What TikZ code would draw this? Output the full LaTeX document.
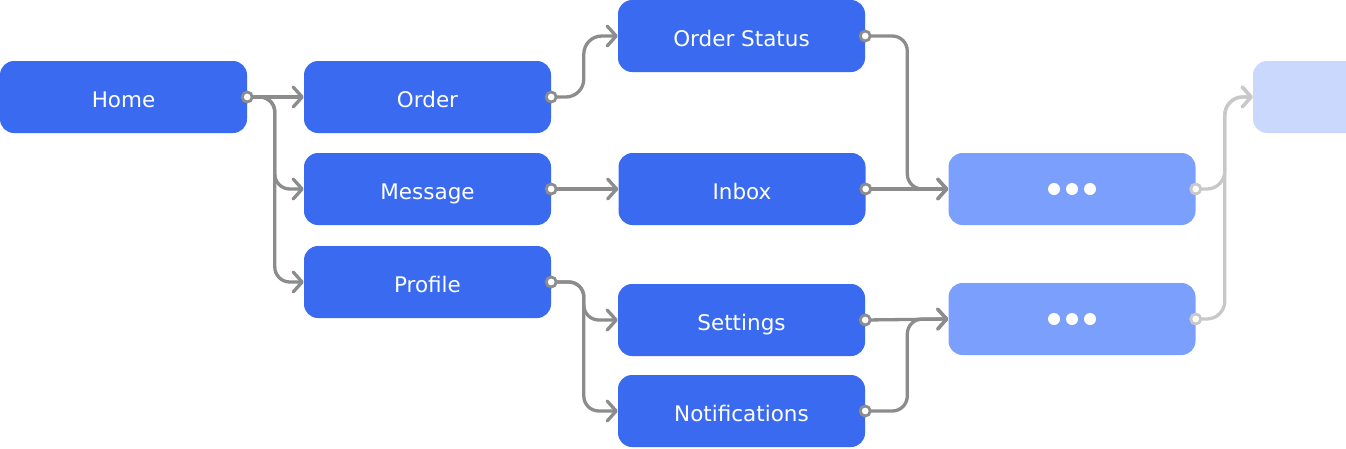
\documentclass[tikz,border=0pt]{standalone}
\usepackage{fontspec}
\setmainfont{DejaVu Sans}
\usetikzlibrary{arrows.meta}
\definecolor{nodeblue}{HTML}{396AF0}
\definecolor{softblue}{HTML}{7B9FFC}
\definecolor{paleblue}{HTML}{CAD8FD}
\definecolor{linegray}{HTML}{8C8C8C}
\definecolor{lightgray}{HTML}{C8C8C8}
\begin{document}
\begin{tikzpicture}[x=1pt,y=-1pt,
  box/.style={fill=nodeblue, rounded corners=14pt, minimum width=247pt, minimum height=72pt,
    inner sep=0pt, text height=20pt, text depth=0pt, text=white,
    font=\fontsize{21.5}{25}\selectfont},
  softbox/.style={box, fill=softblue},
  palebox/.style={box, fill=paleblue},
  conn/.style={draw=linegray, line width=3.3pt, rounded corners=15pt,
    -{Straight Barb[length=9pt,width=20pt,round]}},
  connlight/.style={conn, draw=lightgray},
  startdot/.style={draw=linegray, fill=white, line width=2.8pt},
  startdotlight/.style={startdot, draw=lightgray}]
\clip (0,0) rectangle (1346,448);
\node[box] (home) at (123.5,97) {Home};
\node[box] (order) at (427.5,97) {Order};
\node[box] (message) at (427.5,189) {Message};
\node[box] (profile) at (427.5,282) {Profile};
\node[box] (ostatus) at (741.5,36) {Order Status};
\node[box] (inbox) at (742,189) {Inbox};
\node[box] (settings) at (741.5,320) {Settings};
\node[box] (notif) at (741.5,411) {Notifications};
\node[softbox] (dots1) at (1072,189) {};
\node[softbox] (dots2) at (1072,319) {};
\node[palebox] (faint) at (1376.5,97) {};
\foreach \dx in {-18,0,18} {
  \fill[white] ([xshift=\dx pt]dots1.center) circle (6pt);
  \fill[white] ([xshift=\dx pt]dots2.center) circle (6pt);
}
\draw[conn] (home.east) -- (order.west);
\draw[conn] (home.east) -| ([xshift=-29pt]message.west) -- (message.west);
\draw[conn] (home.east) -| ([xshift=-29pt]profile.west) -- (profile.west);
\draw[conn, rounded corners=18pt] (order.east) -| ([xshift=-34pt]ostatus.west) -- (ostatus.west);
\draw[conn] (message.east) -- (inbox.west);
\draw[conn] (profile.east) -| ([xshift=-34pt]settings.west) -- (settings.west);
\draw[conn] (profile.east) -| ([xshift=-34pt]notif.west) -- (notif.west);
\draw[conn] (ostatus.east) -| ([xshift=-41pt]dots1.west) -- (dots1.west);
\draw[conn] (inbox.east) -- (dots1.west);
\draw[conn] (settings.east) -- (dots2.west);
\draw[conn] (notif.east) -| ([xshift=-41pt]dots2.west) -- (dots2.west);
\draw[connlight, rounded corners=18pt] (dots1.east) -| ([xshift=-28pt]faint.west) -- (faint.west);
\draw[connlight, rounded corners=18pt] (dots2.east) -| ([xshift=-28pt]faint.west) -- (faint.west);
\foreach \n in {home,order,message,profile,ostatus,inbox,settings,notif}
  \draw[startdot] (\n.east) circle (5pt);
\foreach \n in {dots1,dots2}
  \draw[startdotlight] (\n.east) circle (5pt);
\end{tikzpicture}
\end{document}
